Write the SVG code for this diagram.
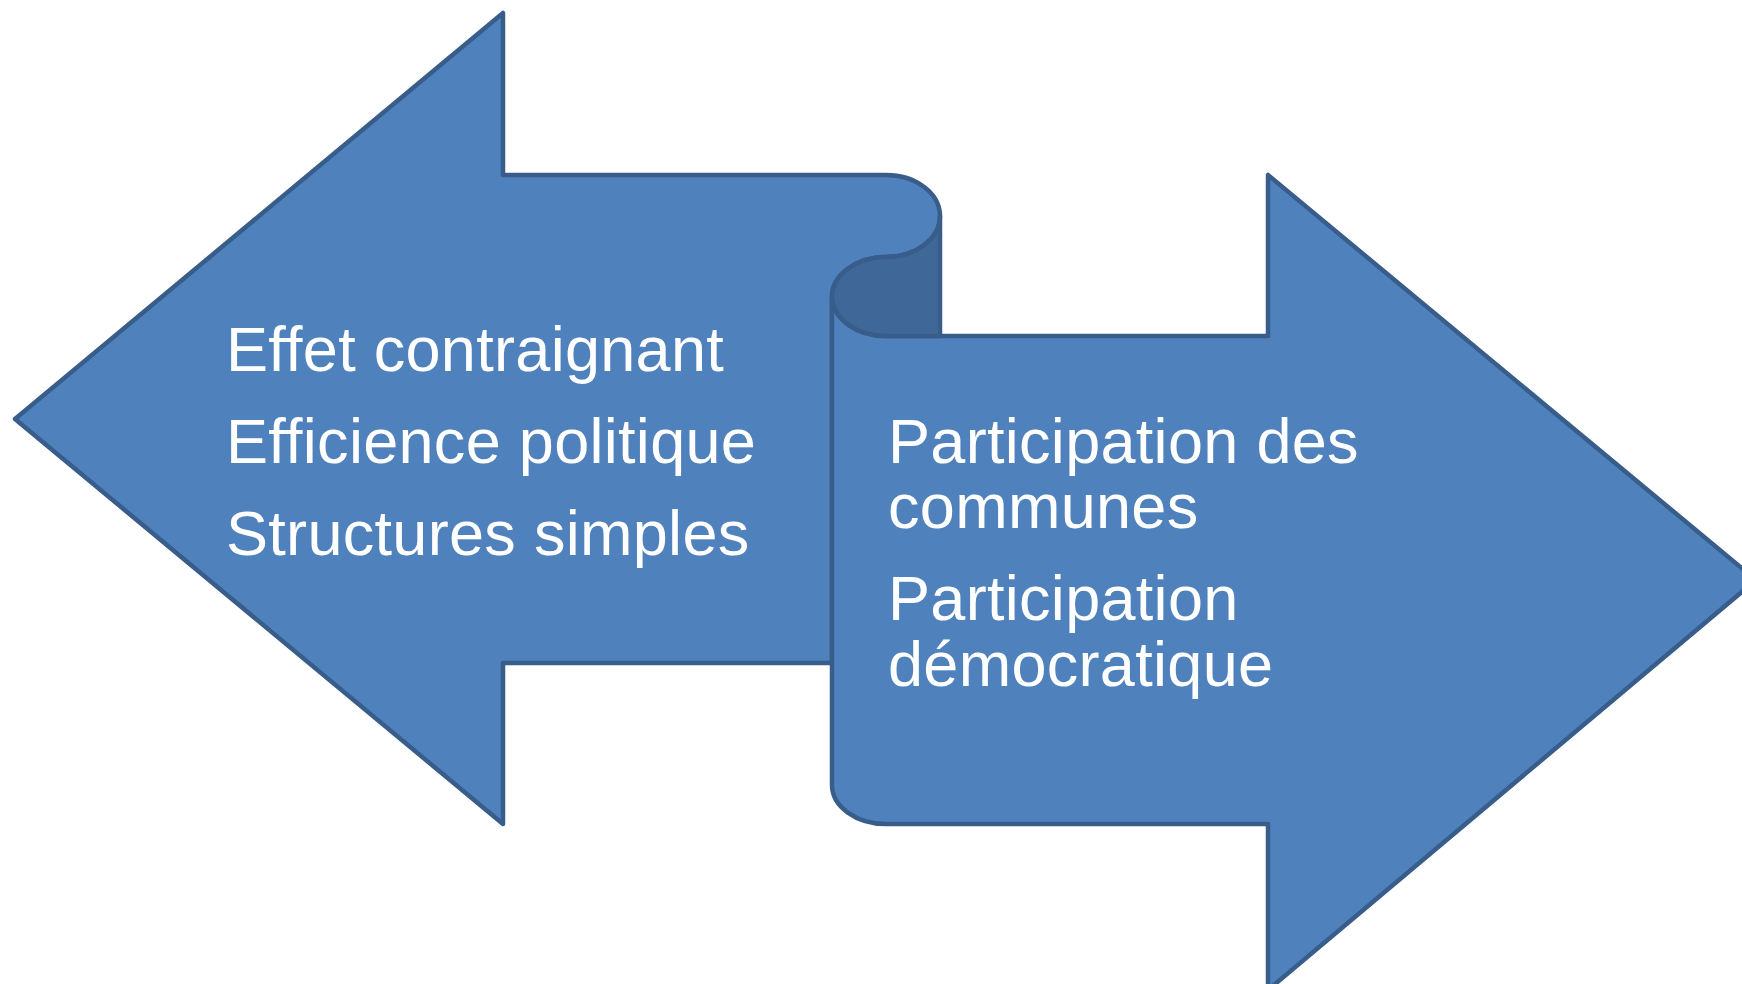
<svg xmlns="http://www.w3.org/2000/svg" width="1742" height="984" viewBox="0 0 1742 984">
<style>
.shape{fill:#4F81BD;stroke:#385D8A;stroke-width:4.5;stroke-linejoin:round}
.curl{fill:#3F6899;stroke:#385D8A;stroke-width:4.5;stroke-linejoin:round}
.t{font-family:"Liberation Sans",Arial,sans-serif;font-size:63px;fill:#FFFFFF;letter-spacing:0.3px;font-variant-ligatures:none}
</style>
<rect width="1742" height="984" fill="#FFFFFF"/>
<g id="left-arrow">
<path class="shape" d="M 15 419 L 503 13 L 503 175 L 886 175 A 54 41 0 0 1 940 216 A 54 41 0 0 1 886 257 A 54 40 0 0 0 832 297 L 832 663 L 503 663 L 503 824 Z"/>
</g>
<g id="right-arrow">
<path class="shape" d="M 832 297 L 832 785 A 54 39 0 0 0 886 824 L 1268 824 L 1268 990 L 1756 580 L 1268 175 L 1268 336 L 886 336 A 54 40 0 0 1 832 297 Z"/>
<path class="curl" d="M 940 216 L 940 336 L 886 336 A 54 40 0 0 1 832 297 A 54 40 0 0 1 886 257 A 54 41 0 0 0 940 216 Z"/>
</g>
<g id="left-text">
<text class="t" x="226" y="371">Effet contraignant</text>
<text class="t" x="226" y="463">Efficience politique</text>
<text class="t" x="226" y="555">Structures simples</text>
</g>
<g id="right-text">
<text class="t" x="888" y="463">Participation des</text>
<text class="t" x="888" y="528">communes</text>
<text class="t" x="888" y="620">Participation</text>
<text class="t" x="888" y="686">démocratique</text>
</g>
<g id="connectors"/>
</svg>
